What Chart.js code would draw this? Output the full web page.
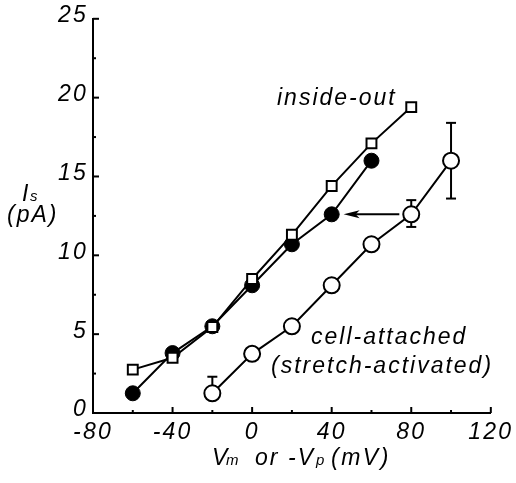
<!DOCTYPE html>
<html><head><meta charset="utf-8">
<script src="https://cdn.jsdelivr.net/npm/chart.js@4.4.1/dist/chart.umd.min.js"></script>
<style>html,body{margin:0;padding:0;background:#fff}#wrap{width:516px;height:483px}</style>
</head><body><div id="wrap"><canvas id="c" width="516" height="483"></canvas></div>
<script>
// Data
const insideOutX = [-60, -40, -20, 0, 20, 40, 60, 80];
const insideOutY = [2.75, 3.5, 5.45, 8.5, 11.3, 14.4, 17.1, 19.4];
const filledX = [-60, -40, -20, 0, 20, 40, 60];
const filledY = [1.25, 3.8, 5.5, 8.1, 10.7, 12.6, 16.0];
const cellX = [-20, 0, 20, 40, 60, 80, 100];
const cellY = [1.25, 3.75, 5.5, 8.1, 10.7, 12.6, 16.0];
const cellErrUp = [2.3, null, null, null, null, 13.5, 18.4];
const cellErrDown = [null, null, null, null, null, 11.8, 13.6];
const arrowFrom = [74, 12.6];
const arrowTo = [46, 12.6];
const xTicks = [-80, -40, 0, 40, 80, 120];
const xMinor = [-60, -20, 20, 60, 100];
const yTicks = [0, 5, 10, 15, 20, 25];
const yMinor = [2.5, 7.5, 12.5, 17.5, 22.5];

const pts = (xs, ys) => xs.map((x, i) => ({x, y: ys[i]}));
const FONT = 'Liberation Sans, Arial, sans-serif';

const decor = {
  id: 'decor',
  beforeDraw(chart) { chart.ctx.letterSpacing = '2.2px'; },
  afterDatasetsDraw(chart) {
    const ctx = chart.ctx, xs = chart.scales.x, ys = chart.scales.y;
    ctx.save();
    ctx.strokeStyle = '#000'; ctx.lineWidth = 2;
    cellX.forEach((x, i) => {
      const px = xs.getPixelForValue(x), py = ys.getPixelForValue(cellY[i]);
      [cellErrUp[i], cellErrDown[i]].forEach((e, k) => {
        if (e == null) return;
        const pe = ys.getPixelForValue(e);
        const start = k === 0 ? py - 8 : py + 8;
        ctx.beginPath(); ctx.moveTo(px, start); ctx.lineTo(px, pe); ctx.stroke();
        ctx.beginPath(); ctx.moveTo(px - 5, pe); ctx.lineTo(px + 5, pe); ctx.stroke();
      });
    });
    ctx.restore();
  },
  afterDraw(chart) {
    const ctx = chart.ctx, xs = chart.scales.x, ys = chart.scales.y, a = chart.chartArea;
    ctx.save();
    ctx.strokeStyle = '#000'; ctx.fillStyle = '#000'; ctx.lineWidth = 2;
    yTicks.forEach(v => { const p = ys.getPixelForValue(v); ctx.beginPath(); ctx.moveTo(a.left, p); ctx.lineTo(a.left + 6, p); ctx.stroke(); });
    yMinor.forEach(v => { const p = ys.getPixelForValue(v); ctx.beginPath(); ctx.moveTo(a.left, p); ctx.lineTo(a.left + 3, p); ctx.stroke(); });
    xTicks.forEach(v => { const p = xs.getPixelForValue(v); ctx.beginPath(); ctx.moveTo(p, a.bottom); ctx.lineTo(p, a.bottom - 6); ctx.stroke(); });
    xMinor.forEach(v => { const p = xs.getPixelForValue(v); ctx.beginPath(); ctx.moveTo(p, a.bottom); ctx.lineTo(p, a.bottom - 3); ctx.stroke(); });
    // arrow
    const x1 = xs.getPixelForValue(arrowFrom[0]), y1 = ys.getPixelForValue(arrowFrom[1]);
    const x2 = xs.getPixelForValue(arrowTo[0]), y2 = ys.getPixelForValue(arrowTo[1]);
    ctx.beginPath(); ctx.moveTo(x1, y1); ctx.lineTo(x2 + 10, y2); ctx.stroke();
    ctx.beginPath(); ctx.moveTo(x2, y2); ctx.lineTo(x2 + 16, y2 - 4); ctx.lineTo(x2 + 12, y2); ctx.lineTo(x2 + 16, y2 + 4); ctx.closePath(); ctx.fill();
    // texts
    ctx.textBaseline = 'alphabetic'; ctx.textAlign = 'left';
    const txt = (t, x, y, sz, sp) => { ctx.font = 'italic ' + sz + 'px ' + FONT; ctx.letterSpacing = sp + 'px'; ctx.fillText(t, x, y); };
    txt('inside-out', 277, 105, 23, 2);
    txt('cell-attached', 311, 344, 23, 2);
    txt('(stretch-activated)', 271, 373, 23, 2);
    // y title
    txt('(pA)', 7, 222, 23, 2);
    txt('I', 22, 201, 23, 0);
    txt('s', 30, 201, 15, 0);
    // x title
    txt('V', 212, 465, 23, 0);
    txt('m', 226, 465, 15, 1);
    txt('or', 255, 465, 23, 2);
    txt('-V', 288, 465, 23, 2);
    txt('p', 316, 465, 15, 0);
    txt('(mV)', 331, 465, 23, 2.5);
    ctx.restore();
  }
};

new Chart(document.getElementById('c'), {
  type: 'scatter',
  data: {
    datasets: [
      { label: 'inside-out', data: pts(insideOutX, insideOutY), showLine: true, order: 0,
        borderColor: '#000', borderWidth: 2, pointStyle: 'rect', pointRadius: 7, pointBackgroundColor: '#fff', pointBorderColor: '#000', pointBorderWidth: 2 },
      { label: 'filled', data: pts(filledX, filledY), showLine: true, order: 1,
        borderColor: '#000', borderWidth: 2, pointStyle: 'circle', pointRadius: 7.5, pointBackgroundColor: '#000', pointBorderColor: '#000', pointBorderWidth: 1 },
      { label: 'cell-attached', data: pts(cellX, cellY), showLine: true, order: 2,
        borderColor: '#000', borderWidth: 2, pointStyle: 'circle', pointRadius: 8, pointBackgroundColor: '#fff', pointBorderColor: '#000', pointBorderWidth: 2 }
    ]
  },
  options: {
    responsive: false, animation: false, devicePixelRatio: 1,
    layout: { padding: { top: 14, right: 24, left: 0, bottom: 0 } },
    plugins: { legend: { display: false }, tooltip: { enabled: false } },
    scales: {
      x: { type: 'linear', min: -80, max: 120,
        afterFit: s => { s.height = 70; },
        grid: { display: false, drawTicks: false }, border: { display: true, color: '#000', width: 2 },
        afterBuildTicks: s => { s.ticks = xTicks.map(v => ({value: v})); },
        ticks: { color: '#000', padding: 6, maxRotation: 0, autoSkip: false, font: { family: FONT, size: 23, style: 'italic' } } },
      y: { type: 'linear', min: 0, max: 25,
        afterFit: s => { s.width = 93; },
        grid: { display: false, drawTicks: false }, border: { display: true, color: '#000', width: 2 },
        afterBuildTicks: s => { s.ticks = yTicks.map(v => ({value: v})); },
        ticks: { color: '#000', padding: 5, labelOffset: -3, font: { family: FONT, size: 23, style: 'italic' } } }
    }
  },
  plugins: [decor]
});
</script></body></html>
